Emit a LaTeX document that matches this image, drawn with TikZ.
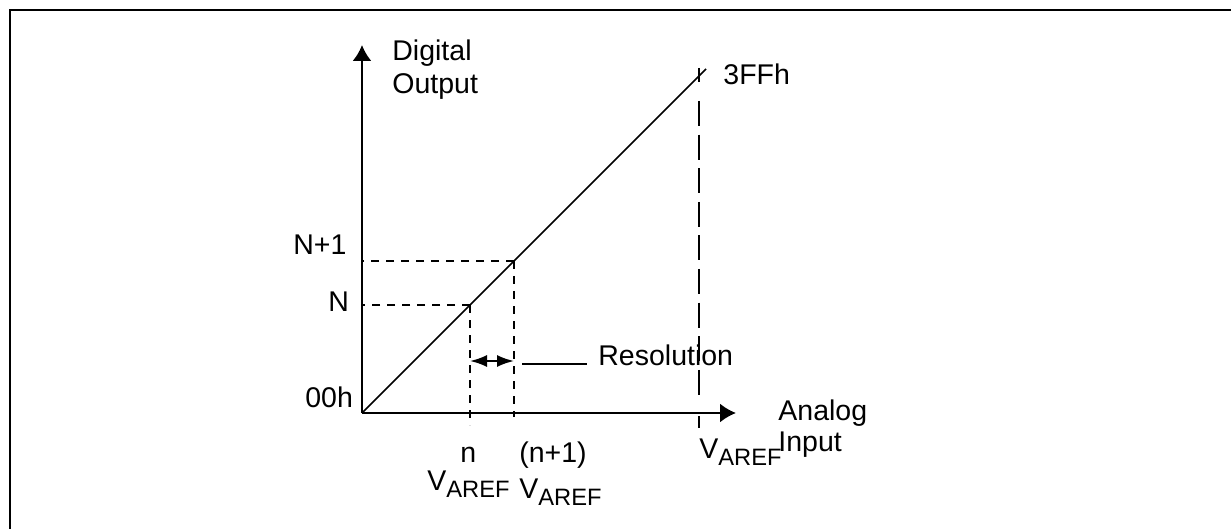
\documentclass[tikz,border=0pt]{standalone}
\usepackage{fontspec}
\setmainfont{Liberation Sans}
\usetikzlibrary{arrows.meta}
\newcommand{\varef}{V\raisebox{-3.5pt}{\fontsize{11.85}{13}\selectfont AREF}}

\begin{document}
\begin{tikzpicture}
        [x=0.5pt,y=-0.5pt,
         every node/.style={inner sep=0pt,anchor=base west,font=\fontsize{14.25}{17}\selectfont},
         axis/.style={line width=1.3pt,-{Latex[length=8pt,width=9.6pt]}},
         guide/.style={line width=1pt,dash pattern=on 4pt off 3.5pt},
         level/.style={line width=1pt}]
        \useasboundingbox (0,0) rectangle (1231,529);
        \draw[line width=1pt] (10,540) |- (1240,10);

        \coordinate (o) at (362,413);
        \coordinate (yend) at (362,45);
        \coordinate (xend) at (736,413);
        \coordinate (full) at (706,69);
        \coordinate (pn) at (470,305);
        \coordinate (pn1) at (514,261);
        \coordinate (pnlow) at (470,425);
        \coordinate (pn1low) at (514,417);
        \coordinate (resl) at (470,361);
        \coordinate (resr) at (514,361);
        \coordinate (leadl) at (522,364);
        \coordinate (leadr) at (587,364);

        % dotted guides for N and N+1
        \draw[guide] (pn) -- (o |- pn);
        \draw[guide] (pn1) -- (o |- pn1);
        \draw[guide] (pn) -- (pnlow);
        \draw[guide] (pn1) -- (pn1low);

        % full scale line at VAREF
        \draw[level] (699,68) -- (699,82);
        \draw[level,dash pattern=on 12.5pt off 4.3pt] (699,101) -- (699,395);
        \draw[level] (699,416) -- (699,428);

        % transfer line and axes
        \draw[line width=0.85pt] (o) -- (full);
        \draw[axis] (o) -- (yend);
        \draw[axis] (o) -- (xend);

        \draw[level,{Latex[length=8.5pt,width=6pt]}-{Latex[length=8.5pt,width=6pt]}] (resl) -- (resr);
        \draw[level] (leadl) -- (leadr);

        \node (dig) at (392,61) {Digital};
        \node (out) at (392,94) {Output};
        \node (ff) at (723,85) {3FFh};
        \node (nn1) at (293,255) {N+1};
        \node (nn) at (328,312) {N};
        \node (zero) at (305,407) {00h};
        \node (res) at (598,365) {Resolution};
        \node (sn) at (460,462) {n};
        \node (vn) at (427,490) {\varef};
        \node (sn1) at (519,462) {(n+1)};
        \node (vn1) at (519,498) {\varef};
        \node (vfull) at (699,458) {\varef};
        \node (ana) at (778,420) {Analog};
        \node (inp) at (778,451) {Input};

\end{tikzpicture}
\end{document}
